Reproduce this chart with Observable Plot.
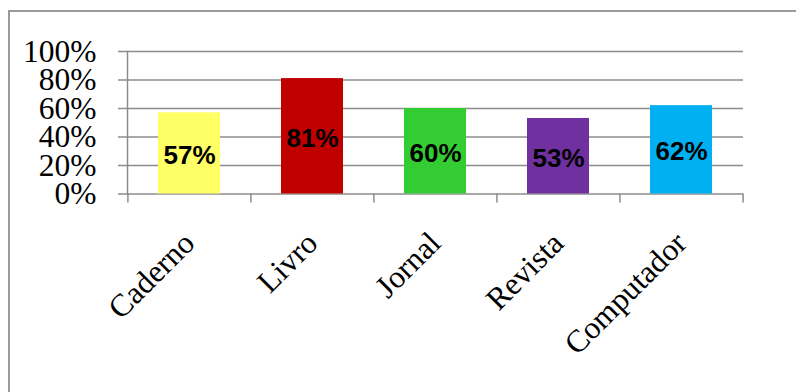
<!DOCTYPE html>
<html>
<head>
<meta charset="utf-8">
<script src="https://cdn.jsdelivr.net/npm/d3@7"></script>
<script src="https://cdn.jsdelivr.net/npm/@observablehq/plot@0.6"></script>
<style>
  html, body { margin: 0; padding: 0; background: #fff; }
  #wrap { position: relative; width: 796px; height: 392px; overflow: hidden; }
  #border { position: absolute; left: 8px; top: 10px; width: 800px; height: 400px;
            border-left: 2px solid #9a9a9a; border-top: 2px solid #9a9a9a; pointer-events: none; }
  svg { display: block; }
</style>
</head>
<body>
<div id="wrap"><div id="border"></div></div>
<script>
const categories = ["Caderno", "Livro", "Jornal", "Revista", "Computador"];
const values = [57, 81, 60, 53, 62];
const palette = ["#FFFF66", "#C00000", "#33CC33", "#7030A0", "#00B0F0"];
const yTicks = [0, 20, 40, 60, 80, 100];

const data = categories.map((c, i) => ({cat: c, value: values[i]}));

const W = 796, H = 392;
const mL = 127, mR = 53, mT = 51, mB = 198.5;
const step = (W - mL - mR) / categories.length;
const gridColor = "#8c8c8c";

const chart = Plot.plot({
  width: W, height: H,
  marginLeft: mL, marginRight: mR, marginTop: mT, marginBottom: mB,
  style: {background: "transparent", overflow: "visible"},
  x: {domain: categories, paddingInner: 0.5, paddingOuter: 0.25, axis: null},
  y: {domain: [0, 100], axis: null},
  color: {domain: categories, range: palette},
  marks: [
    Plot.gridY(yTicks, {stroke: gridColor, strokeOpacity: 1, strokeWidth: 1.5}),
    Plot.axisY(yTicks, {
      label: null, tickSize: 9, tickPadding: 22, stroke: gridColor, strokeWidth: 1.5,
      tickFormat: d => d + "%", fontFamily: "Liberation Serif", fontSize: 31.5, fill: "#000"
    }),
    Plot.barY(data, {x: "cat", y: "value", fill: "cat"}),
    Plot.frame({anchor: "left", stroke: gridColor, strokeWidth: 1.5}),
    Plot.axisX({label: null, tickSize: 9, tickFormat: () => "", dx: -step / 2, stroke: gridColor, strokeWidth: 1.5}),
    Plot.axisX([categories[categories.length - 1]], {label: null, tickSize: 9, tickFormat: () => "", dx: step / 2, stroke: gridColor, strokeWidth: 1.5}),
    Plot.text(data, {
      x: "cat", y: d => d.value / 2, text: d => d.value + "%", dy: 2,
      fontFamily: "Liberation Sans", fontWeight: "bold", fontSize: 26, fill: "#000"
    }),
    Plot.text(categories, {
      x: d => d, frameAnchor: "bottom", text: d => d, rotate: -45, textAnchor: "end",
      dx: 7, dy: 51, fontFamily: "Liberation Serif", fontSize: 31.5, fill: "#000"
    })
  ]
});
document.getElementById("wrap").prepend(chart);
</script>
</body>
</html>
